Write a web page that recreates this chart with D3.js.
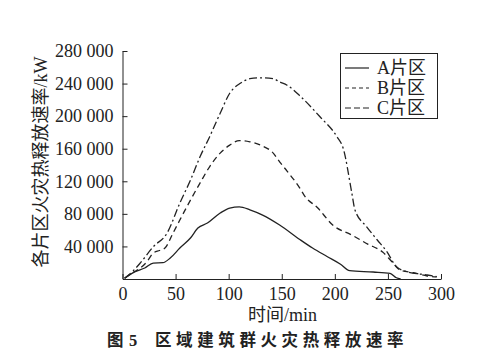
<!DOCTYPE html>
<html><head><meta charset="utf-8">
<script src="https://cdn.jsdelivr.net/npm/d3@7"></script>
<style>
html,body{margin:0;padding:0;background:#fff;}
svg{display:block;}
</style></head>
<body>
<svg id="c" width="478" height="359"></svg>
<script>
const xTicks = [0, 50, 100, 150, 200, 250, 300];
const yTicks = [40000, 80000, 120000, 160000, 200000, 240000, 280000];
const seriesNames = ["A片区", "B片区", "C片区"];

const tA = [2, 12, 21, 29, 38, 45, 54, 64, 71, 80, 92, 101, 110, 120, 132, 148, 167, 179, 193, 205, 214, 236, 252, 258, 262];
const vA = [1000, 9000, 13500, 19600, 20000, 25800, 38000, 50300, 62600, 68700, 81000, 87100, 88500, 85000, 78500, 66300, 48500, 38000, 27400, 18400, 10200, 8600, 7000, 1500, 0];

const tB = [2, 10, 16.5, 23, 29, 35, 40, 47.6, 54, 64, 73, 82, 92, 101, 110, 120, 130, 142, 148, 155, 167, 171, 184, 198, 216, 231, 245, 254, 261.5, 274, 287, 296];
const vB = [1000, 8000, 13100, 21200, 31900, 35000, 38000, 56400, 72400, 96900, 117800, 137800, 154600, 164400, 170000, 168500, 164400, 154600, 143900, 132500, 111700, 103000, 87100, 66300, 54000, 42900, 33100, 20900, 11000, 7700, 3700, 2500];

const tC = [2, 10, 16.5, 29, 42, 54, 64, 73, 82, 92, 101, 111, 120, 130, 142, 148, 155, 167, 186, 202, 208, 216, 219, 230, 240, 249, 258, 268, 287, 296];
const vC = [1000, 10000, 19300, 39600, 56400, 93200, 121400, 150000, 174500, 203600, 228100, 240400, 246000, 247000, 246000, 242000, 238000, 225000, 199200, 174700, 160000, 105600, 84700, 64100, 47900, 33500, 15100, 9000, 4900, 2800];

const svg = d3.select("#c");
const ink = "#222";
const serif = "'Liberation Serif','Noto Sans CJK SC',serif";

const x = d3.scaleLinear().domain([0, 300]).range([122.5, 441]);
const y = d3.scaleLinear().domain([0, 280000]).range([279, 51]);

// axes
const gx = svg.append("g").attr("transform", `translate(0,${y(0)})`)
  .call(d3.axisBottom(x).tickValues(xTicks).tickSizeInner(-5).tickSizeOuter(0).tickPadding(8));
const gy = svg.append("g").attr("transform", `translate(${x(0)},0)`)
  .call(d3.axisLeft(y).tickValues(yTicks).tickSizeInner(-5).tickSizeOuter(0).tickPadding(9)
    .tickFormat(d => (d / 1000) + " 000"));
[gx, gy].forEach(g => {
  g.select(".domain").attr("stroke", ink).attr("stroke-width", 1);
  g.selectAll(".tick line").attr("stroke", ink).attr("stroke-width", 1);
  g.selectAll(".tick text").attr("fill", ink).style("font-family", serif).style("font-size", "18px");
});

// lines
const line = d3.line().x(d => x(d[0])).y(d => y(d[1])).curve(d3.curveMonotoneX);
const series = [
  {t: tA, v: vA, dash: null},
  {t: tB, v: vB, dash: "6,4"},
  {t: tC, v: vC, dash: "8,3,2,3"}
];
series.forEach(s => {
  svg.append("path")
    .datum(s.t.map((t, i) => [t, s.v[i]]))
    .attr("d", line)
    .attr("fill", "none")
    .attr("stroke", ink)
    .attr("stroke-width", 1.3)
    .attr("stroke-dasharray", s.dash);
});

// legend
const lg = svg.append("g");
lg.append("rect").attr("x", 340.5).attr("y", 53.5).attr("width", 97).attr("height", 65)
  .attr("fill", "#fff").attr("stroke", ink).attr("stroke-width", 1);
const legendDash = [null, "4,3", "6,3"];
seriesNames.forEach((n, i) => {
  const yy = 68 + i * 20;
  lg.append("line").attr("x1", 345).attr("x2", 369).attr("y1", yy).attr("y2", yy)
    .attr("stroke", ink).attr("stroke-width", 1.2).attr("stroke-dasharray", legendDash[i]);
  lg.append("text").attr("x", 377).attr("y", yy).attr("dy", "0.35em")
    .attr("fill", ink).style("font-family", serif).style("font-size", "18px").text(n);
});

// axis titles
svg.append("text").attr("x", 282.5).attr("y", 315).attr("dy", "0.35em").attr("text-anchor", "middle")
  .attr("fill", ink).style("font-family", serif).style("font-size", "18px").text("时间/min");
svg.append("text").attr("transform", "translate(41,162) rotate(-90)").attr("dy", "0.35em")
  .attr("text-anchor", "middle").attr("fill", ink).style("font-family", serif).style("font-size", "18px")
  .text("各片区火灾热释放速率/kW");

// caption
const cap = svg.append("text").attr("y", 340).attr("dy", "0.35em").attr("fill", ink)
  .style("font-family", "'Noto Sans CJK SC',sans-serif").style("font-size", "16.5px").style("font-weight", "bold");
cap.append("tspan").attr("x", 107).text("图");
cap.append("tspan").attr("x", 129).style("font-family", serif).text("5");
cap.append("tspan").attr("x", 155).style("letter-spacing", "4.6px").text("区域建筑群火灾热释放速率");
</script>
</body></html>
